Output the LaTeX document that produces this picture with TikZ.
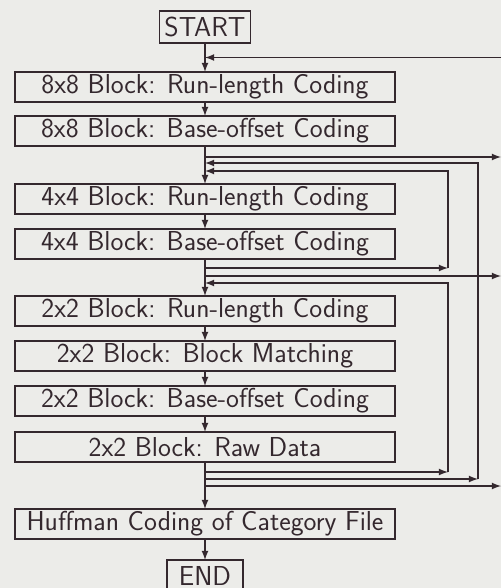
\documentclass[tikz,border=0pt]{standalone}
\usetikzlibrary{shapes,arrows,positioning,calc}
\definecolor{paper}{RGB}{236,236,233}
\definecolor{ink}{RGB}{52,40,46}

\begin{document}
\begin{tikzpicture}[
    comp/.style={rectangle, minimum width=7.6cm, minimum height=0.6cm, inner sep=0pt, outer sep=0pt, text centered, draw=ink, thick, text=ink, font=\sffamily\fontsize{15.6}{18}\selectfont},
    term/.style={comp, minimum width=1.82cm, minimum height=0.64cm},
    >=latex
]
\fill[paper] (0,0) rectangle (10.02,-11.76);
\useasboundingbox (0,0) rectangle (10.02,-11.76);

% Ablauf
\node (start) [term] at (4.1,-0.54) {START};
\node (rl8) [comp, below=0.58cm of start] {8x8 Block: Run-length Coding};
\node (bo8) [comp, below=0.28cm of rl8] {8x8 Block: Base-offset Coding};
\node (rl4) [comp, below=0.76cm of bo8] {4x4 Block: Run-length Coding};
\node (bo4) [comp, below=0.3cm of rl4] {4x4 Block: Base-offset Coding};
\node (rl2) [comp, below=0.74cm of bo4] {2x2 Block: Run-length Coding};
\node (bm2) [comp, below=0.3cm of rl2] {2x2 Block: Block Matching};
\node (bo2) [comp, below=0.3cm of bm2] {2x2 Block: Base-offset Coding};
\node (raw2) [comp, below=0.32cm of bo2] {2x2 Block: Raw Data};
\node (huff) [comp, below=0.94cm of raw2] {Huffman Coding of Category File};
\node (stop) [term, minimum width=1.52cm, below=0.42cm of huff] {END};

% Abzweigungen
\coordinate (colA) at (8.96,0);
\coordinate (colB) at (9.56,0);
\coordinate (rim) at (10.02,0);
\coordinate (ret8) at ($(start.south)!0.5!(rl8.north)$);
\coordinate (a8) at ([yshift=-0.22cm]bo8.south);
\coordinate (b8) at ([yshift=-0.34cm]bo8.south);
\coordinate (c8) at ([yshift=-0.5cm]bo8.south);
\coordinate (a4) at ([yshift=-0.18cm]bo4.south);
\coordinate (b4) at ([yshift=-0.34cm]bo4.south);
\coordinate (c4) at ([yshift=-0.48cm]bo4.south);
\coordinate (a2) at ([yshift=-0.2cm]raw2.south);
\coordinate (b2) at ([yshift=-0.34cm]raw2.south);
\coordinate (c2) at ([yshift=-0.48cm]raw2.south);

% Hauptlinie
\draw[->, thick, ink] (start) -- (rl8);
\draw[->, thick, ink] (rl8) -- (bo8);
\draw[->, thick, ink] (bo8) -- (rl4);
\draw[->, thick, ink] (rl4) -- (bo4);
\draw[->, thick, ink] (bo4) -- (rl2);
\draw[->, thick, ink] (rl2) -- (bm2);
\draw[->, thick, ink] (bm2) -- (bo2);
\draw[->, thick, ink] (bo2) -- (raw2);
\draw[->, thick, ink] (raw2) -- (huff);
\draw[->, thick, ink] (huff) -- (stop);

% Schleifen
\draw[->, thick, ink] (rim |- ret8) -- (ret8);
\draw[->, thick, ink] (a8) -- (rim |- a8);
\draw[->, thick, ink] (colA |- a4) -- (colA |- c8) -- (c8);
\draw[->, thick, ink] (a4) -- (colA |- a4);
\draw[->, thick, ink] (b4) -- (rim |- b4);
\draw[->, thick, ink] (colA |- a2) -- (colA |- c4) -- (c4);
\draw[->, thick, ink] (a2) -- (colA |- a2);
\draw[->, thick, ink] (b2) -- (colB |- b2);
\draw[->, thick, ink] (colB |- b2) -- (colB |- b8) -- (b8);
\draw[->, thick, ink] (c2) -- (rim |- c2);

\end{tikzpicture}
\end{document}
